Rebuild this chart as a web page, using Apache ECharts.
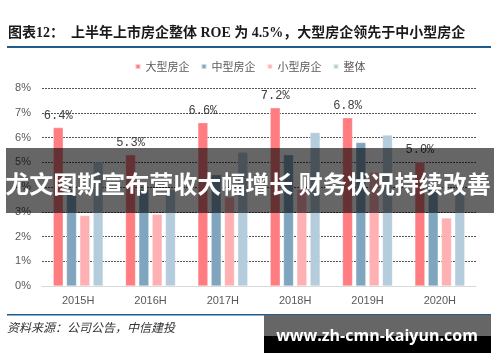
<!DOCTYPE html>
<html><head><meta charset="utf-8">
<script src="https://cdn.jsdelivr.net/npm/echarts@6/dist/echarts.min.js"></script>
<style>html,body{margin:0;padding:0;background:#fff}#c{width:500px;height:362px}</style>
</head><body><div id="c"></div>
<script>
const categories = ['2015H','2016H','2017H','2018H','2019H','2020H'];
const largeVals  = [6.4, 5.3, 6.6, 7.2, 6.8, 5.0];
const midVals    = [3.9, 3.9, 4.5, 5.3, 5.8, 3.9];
const smallVals  = [2.85, 2.9, 3.6, 3.9, 4.6, 2.75];
const totalVals  = [5.0, 3.9, 5.4, 6.2, 6.1, 3.8];
const seriesNames = ['大型房企','中型房企','小型房企','整体'];
const yTicks = [0,1,2,3,4,5,6,7,8];

const chart = echarts.init(document.getElementById('c'));
const colors = ['#FF7C80','#7FA5BF','#FFB0B3','#B4CCDC'];
const mk = (name, data, color, withLabel) => ({
  name, type:'bar', data, barWidth:10, barGap:'33%',
  itemStyle:{color, borderColor:'rgba(255,255,255,0.6)', borderWidth:0.5},
  label: withLabel ? {show:true, position:'top', distance:6, color:'#404040',
    fontFamily:'Liberation Mono, DejaVu Sans Mono, monospace', fontSize:12,
    formatter:p=>p.value.toFixed(1)+'%'} : {show:false}
});
chart.setOption({
  animation:false,
  color: colors,
  legend:{data:seriesNames, top:56, left:'center', icon:'rect', itemWidth:5, itemHeight:5, itemGap:11,
    textStyle:{fontFamily:'Noto Sans CJK SC', fontSize:11, color:'#595959'}},
  grid:{left:42, right:24, top:88, bottom:76},
  xAxis:{type:'category', data:categories,
    axisLine:{lineStyle:{color:'#d9d9d9', width:1}}, axisTick:{show:false},
    axisLabel:{color:'#595959', fontFamily:'Liberation Sans, Arial', fontSize:11, margin:9}},
  yAxis:{type:'value', min:yTicks[0], max:yTicks[yTicks.length-1], interval:1,
    axisLine:{show:false}, axisTick:{show:false},
    axisLabel:{formatter:'{value}%', color:'#595959', fontFamily:'Liberation Sans, Arial', fontSize:11, margin:11},
    splitLine:{lineStyle:{color:'#555', type:[2,1], width:1}}},
  series:[
    mk(seriesNames[0], largeVals, colors[0], true),
    mk(seriesNames[1], midVals, colors[1], false),
    mk(seriesNames[2], smallVals, colors[2], false),
    mk(seriesNames[3], totalVals, colors[3], false)
  ],
  graphic:[
    {type:'text', left:8, top:26, z:10, style:{text:'图表12：  上半年上市房企整体 ROE 为 4.5%，大型房企领先于中小型房企',
      font:'bold 14px "Liberation Serif", "Noto Sans CJK SC"', fill:'#1a1a1a'}},
    {type:'rect', shape:{x:7, y:46, width:484, height:2}, style:{fill:'#1F5C8C'}, z:10},
    {type:'rect', shape:{x:7, y:314, width:484, height:1.5}, style:{fill:'#1F5C8C'}, z:10},
    {type:'text', left:7, top:321, z:10, style:{text:'资料来源：公司公告，中信建投',
      font:'italic 12px "Noto Sans CJK SC"', fill:'#333'}},
    {type:'rect', shape:{x:6, y:148, width:488, height:65}, style:{fill:'rgba(0,0,0,0.6)'}, z:100},
    {type:'text', x:248, y:184, z:101, style:{text:'尤文图斯宣布营收大幅增长 财务状况持续改善',
      font:'bold 24px "Noto Sans CJK SC"', fill:'#fff', align:'center', verticalAlign:'middle'}},
    {type:'rect', shape:{x:264, y:315, width:227, height:21}, style:{fill:'#666'}, z:100},
    {type:'rect', shape:{x:264, y:336, width:227, height:17}, style:{fill:'#000'}, z:100},
    {type:'text', x:377, y:336, z:101, style:{text:'www.zh-cmn-kaiyun.com',
      font:'bold 16px "Open Sans", "Noto Sans"', fill:'#fff', align:'center', verticalAlign:'middle'}}
  ]
});
</script></body></html>
